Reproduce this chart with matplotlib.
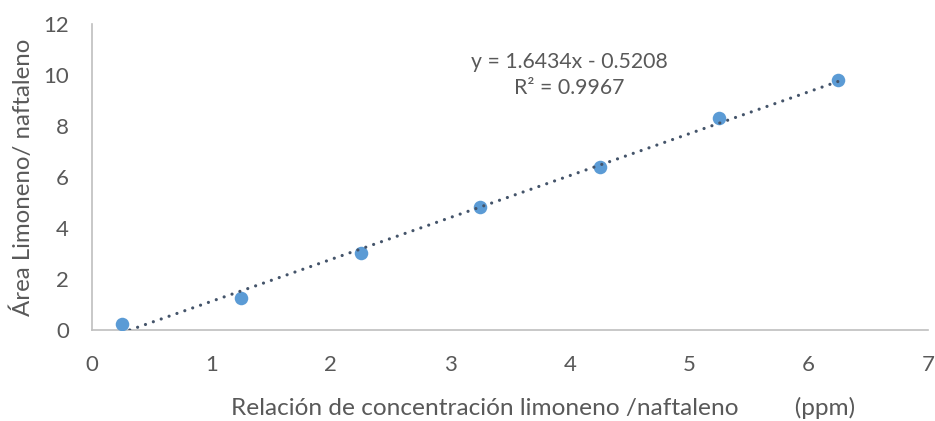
import matplotlib
matplotlib.use("Agg")
import matplotlib.pyplot as plt
import numpy as np

plt.rcParams['font.family'] = ['Lato', 'DejaVu Sans']

# Calibration data: limonene / naphthalene
ratio_conc = [0.25, 1.25, 2.25, 3.25, 4.25, 5.25, 6.25]
ratio_area = [0.22, 1.27, 3.01, 4.84, 6.38, 8.30, 9.80]
slope = 1.6434
intercept = -0.5208
r2 = 0.9967

x_ticks = [0, 1, 2, 3, 4, 5, 6, 7]
y_ticks = [0, 2, 4, 6, 8, 10, 12]

text_color = '#595959'
axis_color = '#BFBFBF'

fig = plt.figure(figsize=(9.35, 4.21), dpi=100)
ax = fig.add_axes([0.0984, 0.2162, 0.8941, 0.7268])

ax.scatter(ratio_conc, ratio_area, s=95, color='#5B9BD5', zorder=3, linewidths=0)

# Linear trendline
xt = np.array([ratio_conc[0], ratio_conc[-1]])
ax.plot(xt, slope * xt + intercept, color='#44546A', linewidth=2.3,
        linestyle=(0, (0.01, 2.6)), dash_capstyle='round', zorder=4)

ax.set_xlim(0, 7)
ax.set_ylim(0, 12)
ax.set_xticks(x_ticks)
ax.set_yticks(y_ticks)
ax.tick_params(length=0, labelsize=16, labelcolor=text_color)
ax.tick_params(axis='x', pad=18)
ax.tick_params(axis='y', pad=16.5)

for side in ('top', 'right'):
    ax.spines[side].set_visible(False)
for side in ('left', 'bottom'):
    ax.spines[side].set_color(axis_color)
    ax.spines[side].set_linewidth(1.2)

ax.set_xlabel('Relación de concentración limoneno /naftaleno         (ppm)',
              fontsize=17.6, color=text_color, va='center')
ax.xaxis.set_label_coords(0.54, -0.256)
ax.set_ylabel('Área Limoneno/ naftaleno', fontsize=17.3, color=text_color, labelpad=7)

ax.text(4.0, 10.0, f'y = {slope:.4f}x - {-intercept:.4f}\nR² = {r2:.4f}',
        ha='center', va='center', fontsize=15.3, color=text_color, linespacing=1.4)

fig.savefig('out.png', dpi=100)
